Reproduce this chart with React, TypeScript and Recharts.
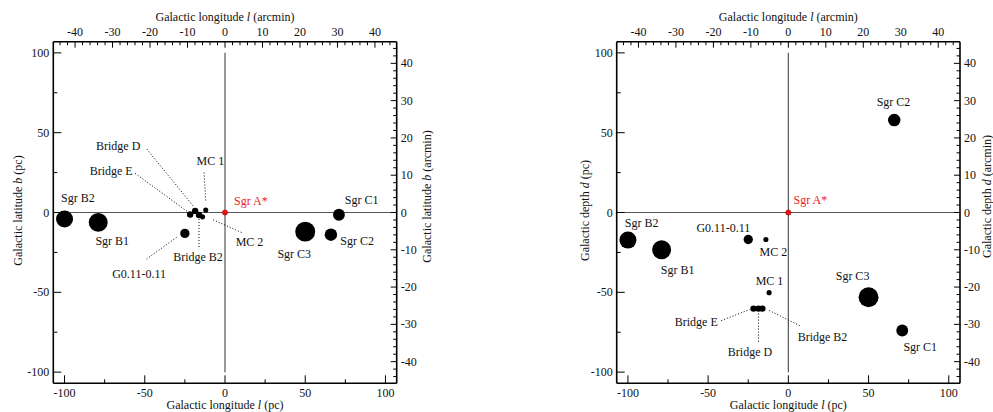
import { ReferenceLine, Scatter, ScatterChart, XAxis, YAxis, ZAxis } from "recharts";

const FONT = '"Liberation Serif", "Times New Roman", "DejaVu Serif", serif';
const PC_PER_ARCMIN = 2.336;
const PC_LIMIT = 107;
const AM_LIMIT = PC_LIMIT / PC_PER_ARCMIN;

// molecular clouds around Sgr A*
const clouds = ["Sgr B2", "Sgr B1", "G0.11-0.11", "Bridge E", "Bridge D", "Bridge B2", "MC 2", "MC 1", "Sgr C3", "Sgr C2", "Sgr C1"];
const longitudePc = [-100, -79, -25, -21.7, -18.6, -16.2, -14, -12, 50, 66, 71];
const latitudePc = [-4.1, -6.2, -13.1, -1.2, 1.0, -1.6, -2.7, 1.5, -12, -13.9, -1.4];
const depthPc = [-17.3, -23.3, -16.9, -60.2, -60.2, -60.2, -16.9, -50.2, -53.1, 57.9, -73.9];
const radiusPc = [5.3, 5.9, 2.9, 2.0, 2.0, 2.0, 1.6, 1.6, 6.2, 3.9, 3.7];

const pcTicks = [-100, -75, -50, -25, 0, 25, 50, 75, 100];
const arcminTicks = Array.from({ length: 45 }, (_, i) => -44 + 2 * i);

type Tag = { dx: number; dy: number; lead?: [number, number, number, number] };

const latitudeTags: Record<string, Tag> = {
  "Sgr A*": { dx: 25.8, dy: -11.7 },
  "Sgr B2": { dx: 13.4, dy: -21.3 },
  "Sgr B1": { dx: 14, dy: 18.3 },
  "G0.11-0.11": { dx: -45.8, dy: 40.6, lead: [-38.3, 25.6, -8.3, 4] },
  "Bridge E": { dx: -79, dy: -43, lead: [-55, -41, -3, -3] },
  "Bridge D": { dx: -77, dy: -65, lead: [-48.3, -61.7, -2, -5] },
  "Bridge B2": { dx: -1, dy: 42.4, lead: [0, 32, 0, 4] },
  "MC 2": { dx: 47, dy: 24.7, lead: [39, 15.7, 10.6, 3] },
  "MC 1": { dx: 4.6, dy: -49.3, lead: [-1.7, -37.6, 0, -9] },
  "Sgr C3": { dx: -11, dy: 22.3 },
  "Sgr C2": { dx: 26.3, dy: 6 },
  "Sgr C1": { dx: 22.7, dy: -14.7 },
};

const depthTags: Record<string, Tag> = {
  "Sgr A*": { dx: 22, dy: -12.7 },
  "Sgr B2": { dx: 13.7, dy: -17.6 },
  "Sgr B1": { dx: 16, dy: 20.3 },
  "G0.11-0.11": { dx: -24.9, dy: -11 },
  "MC 2": { dx: 7.5, dy: 12.3 },
  "MC 1": { dx: 0.4, dy: -12 },
  "Bridge E": { dx: -57.3, dy: 13, lead: [-32.3, 12, -4, 1] },
  "Bridge D": { dx: -8.5, dy: 43, lead: [0, 33, 0, 4] },
  "Bridge B2": { dx: 60.1, dy: 28, lead: [37.3, 17, 5.6, 1.3] },
  "Sgr C3": { dx: -16, dy: -21 },
  "Sgr C2": { dx: -0.7, dy: -18 },
  "Sgr C1": { dx: 18, dy: 16.7 },
};

const textCss = { fontFamily: FONT, fontSize: 12 };
const axisLine = { stroke: "#000", strokeWidth: 1.6 };

function makeTick(side: string, every: number, labelEvery: number, long: number, short: number) {
  return (props: any) => {
    const { x, y, payload } = props;
    const v = payload.value;
    const len = Math.abs(v % every) < 1e-6 ? long : short;
    const show = Math.abs(v % labelEvery) < 1e-6;
    const label = show ? String(v) : null;
    if (side === "bottom")
      return (
        <g>
          <line x1={x} x2={x} y1={y} y2={y - len} stroke="#000" />
          {label && <text x={x} y={y + 13.5} textAnchor="middle" fill="#111" style={textCss}>{label}</text>}
        </g>
      );
    if (side === "top")
      return (
        <g>
          <line x1={x} x2={x} y1={y} y2={y + len} stroke="#000" />
          {label && <text x={x} y={y - 6} textAnchor="middle" fill="#111" style={textCss}>{label}</text>}
        </g>
      );
    if (side === "left")
      return (
        <g>
          <line x1={x} x2={x + len} y1={y} y2={y} stroke="#000" />
          {label && <text x={x - 4} y={y + 4} textAnchor="end" fill="#111" style={textCss}>{label}</text>}
        </g>
      );
    return (
      <g>
        <line x1={x} x2={x - len} y1={y} y2={y} stroke="#000" />
        {label && <text x={x + 4} y={y + 4} textAnchor="start" fill="#111" style={textCss}>{label}</text>}
      </g>
    );
  };
}

function title(word: string, sym: string, unit: string, side: string, shift: number, cyShift = 0) {
  return (props: any) => {
    const vb = props.viewBox;
    const parts = [
      <tspan key="a">{word} </tspan>,
      <tspan key="b" style={{ fontStyle: "italic" }}>{sym}</tspan>,
      <tspan key="c"> ({unit})</tspan>,
    ];
    if (side === "bottom" || side === "top") {
      return (
        <text x={vb.x + vb.width / 2} y={vb.y + shift} textAnchor="middle" fill="#111" style={textCss}>
          {parts}
        </text>
      );
    }
    const tx = vb.x + shift;
    const ty = vb.y + vb.height / 2 + cyShift;
    return (
      <text x={tx} y={ty} textAnchor="middle" transform={`rotate(-90, ${tx}, ${ty})`} fill="#111" style={textCss}>
        {parts}
      </text>
    );
  };
}

function cloudShape(tags: Record<string, Tag>) {
  return (props: any) => {
    const { cx, cy, payload, size } = props;
    const t = tags[payload.name];
    const r = typeof size === "number" ? size : payload.r * 1.6;
    return (
      <g>
        <circle cx={cx} cy={cy} r={r} fill="#000" />
        {t.lead && (
          <line
            x1={cx + t.lead[0]}
            y1={cy + t.lead[1]}
            x2={cx + t.lead[2]}
            y2={cy + t.lead[3]}
            stroke="#000"
            strokeDasharray="1 2"
          />
        )}
        <text x={cx + t.dx} y={cy + t.dy} textAnchor="middle" dominantBaseline="central" fill="#111" style={textCss}>
          {payload.name}
        </text>
      </g>
    );
  };
}

function sgrAShape(tags: Record<string, Tag>) {
  return (props: any) => {
    const { cx, cy } = props;
    const t = tags["Sgr A*"];
    return (
      <g>
        <circle cx={cx} cy={cy} r={2.6} fill="#e11" stroke="#a00" strokeWidth={0.6} />
        <text x={cx + t.dx} y={cy + t.dy} textAnchor="middle" dominantBaseline="central" fill="#e22" style={textCss}>
          Sgr A*
        </text>
      </g>
    );
  };
}

type PanelProps = {
  width: number;
  leftW: number;
  rightW: number;
  yWord: string;
  ySym: string;
  yValues: number[];
  tags: Record<string, Tag>;
  leftTitleX: number;
  rightTitleX: number;
};

function Panel({ width, leftW, rightW, yWord, ySym, yValues, tags, leftTitleX, rightTitleX }: PanelProps) {
  const data = clouds.map((name, i) => ({ name, l: longitudePc[i], v: yValues[i], r: radiusPc[i] }));
  const sgrA = [{ name: "Sgr A*", l: 0, v: 0 }];
  return (
    <ScatterChart width={width} height={412} margin={{ top: 0, right: 0, bottom: 0, left: 0 }}>
      <XAxis
        xAxisId="pc"
        orientation="bottom"
        type="number"
        dataKey="l"
        domain={[-PC_LIMIT, PC_LIMIT]}
        ticks={pcTicks}
        interval={0}
        height={28.7}
        tickSize={0}
        tickMargin={0}
        tickLine={false}
        axisLine={axisLine}
        tick={makeTick("bottom", 50, 50, 8, 4)}
        label={title("Galactic longitude", "l", "pc", "bottom", 26)}
        allowDataOverflow
      />
      <XAxis
        xAxisId="am"
        orientation="top"
        type="number"
        dataKey="l"
        domain={[-AM_LIMIT, AM_LIMIT]}
        ticks={arcminTicks}
        interval={0}
        height={41.7}
        tickSize={0}
        tickMargin={0}
        tickLine={false}
        axisLine={axisLine}
        tick={makeTick("top", 10, 10, 6, 3.5)}
        label={title("Galactic longitude", "l", "arcmin", "top", 21)}
        allowDataOverflow
      />
      <YAxis
        yAxisId="pc"
        orientation="left"
        type="number"
        dataKey="v"
        domain={[-PC_LIMIT, PC_LIMIT]}
        ticks={pcTicks}
        interval={0}
        width={leftW}
        tickSize={0}
        tickMargin={0}
        tickLine={false}
        axisLine={axisLine}
        tick={makeTick("left", 50, 50, 8, 4)}
        label={title(yWord, ySym, "pc", "left", leftTitleX, -2)}
        allowDataOverflow
      />
      <YAxis
        yAxisId="am"
        orientation="right"
        type="number"
        dataKey="v"
        domain={[-AM_LIMIT, AM_LIMIT]}
        ticks={arcminTicks}
        interval={0}
        width={rightW}
        tickSize={0}
        tickMargin={0}
        tickLine={false}
        axisLine={axisLine}
        tick={makeTick("right", 10, 10, 6, 3.5)}
        label={title(yWord, ySym, "arcmin", "right", rightTitleX, -16)}
        allowDataOverflow
      />
      <ZAxis type="number" dataKey="r" domain={[0, 10]} range={[0, 16.05]} />
      <ReferenceLine xAxisId="pc" yAxisId="pc" y={0} stroke="#555" strokeWidth={1.2} />
      <ReferenceLine
        xAxisId="pc"
        yAxisId="pc"
        segment={[
          { x: 0, y: -100 },
          { x: 0, y: 100 },
        ]}
        stroke="#555"
        strokeWidth={1.2}
      />
      <Scatter xAxisId="pc" yAxisId="pc" data={data} shape={cloudShape(tags)} isAnimationActive={false} />
      <Scatter xAxisId="am" yAxisId="am" data={sgrA} shape={sgrAShape(tags)} isAnimationActive={false} />
    </ScatterChart>
  );
}

export default function App() {
  return (
    <div style={{ position: "absolute", left: 0, top: 0, width: 993, height: 412, background: "#fff", overflow: "hidden" }}>
      <div style={{ position: "absolute", left: 0, top: 0 }}>
        <Panel
          width={440}
          leftW={53.3}
          rightW={43.3}
          yWord="Galactic latitude"
          ySym="b"
          yValues={latitudePc}
          tags={latitudeTags}
          leftTitleX={22}
          rightTitleX={34.3}
        />
      </div>
      <div style={{ position: "absolute", left: 560, top: 0 }}>
        <Panel
          width={433}
          leftW={56.7}
          rightW={33}
          yWord="Galactic depth"
          ySym="d"
          yValues={depthPc}
          tags={depthTags}
          leftTitleX={29}
          rightTitleX={31}
        />
      </div>
    </div>
  );
}
